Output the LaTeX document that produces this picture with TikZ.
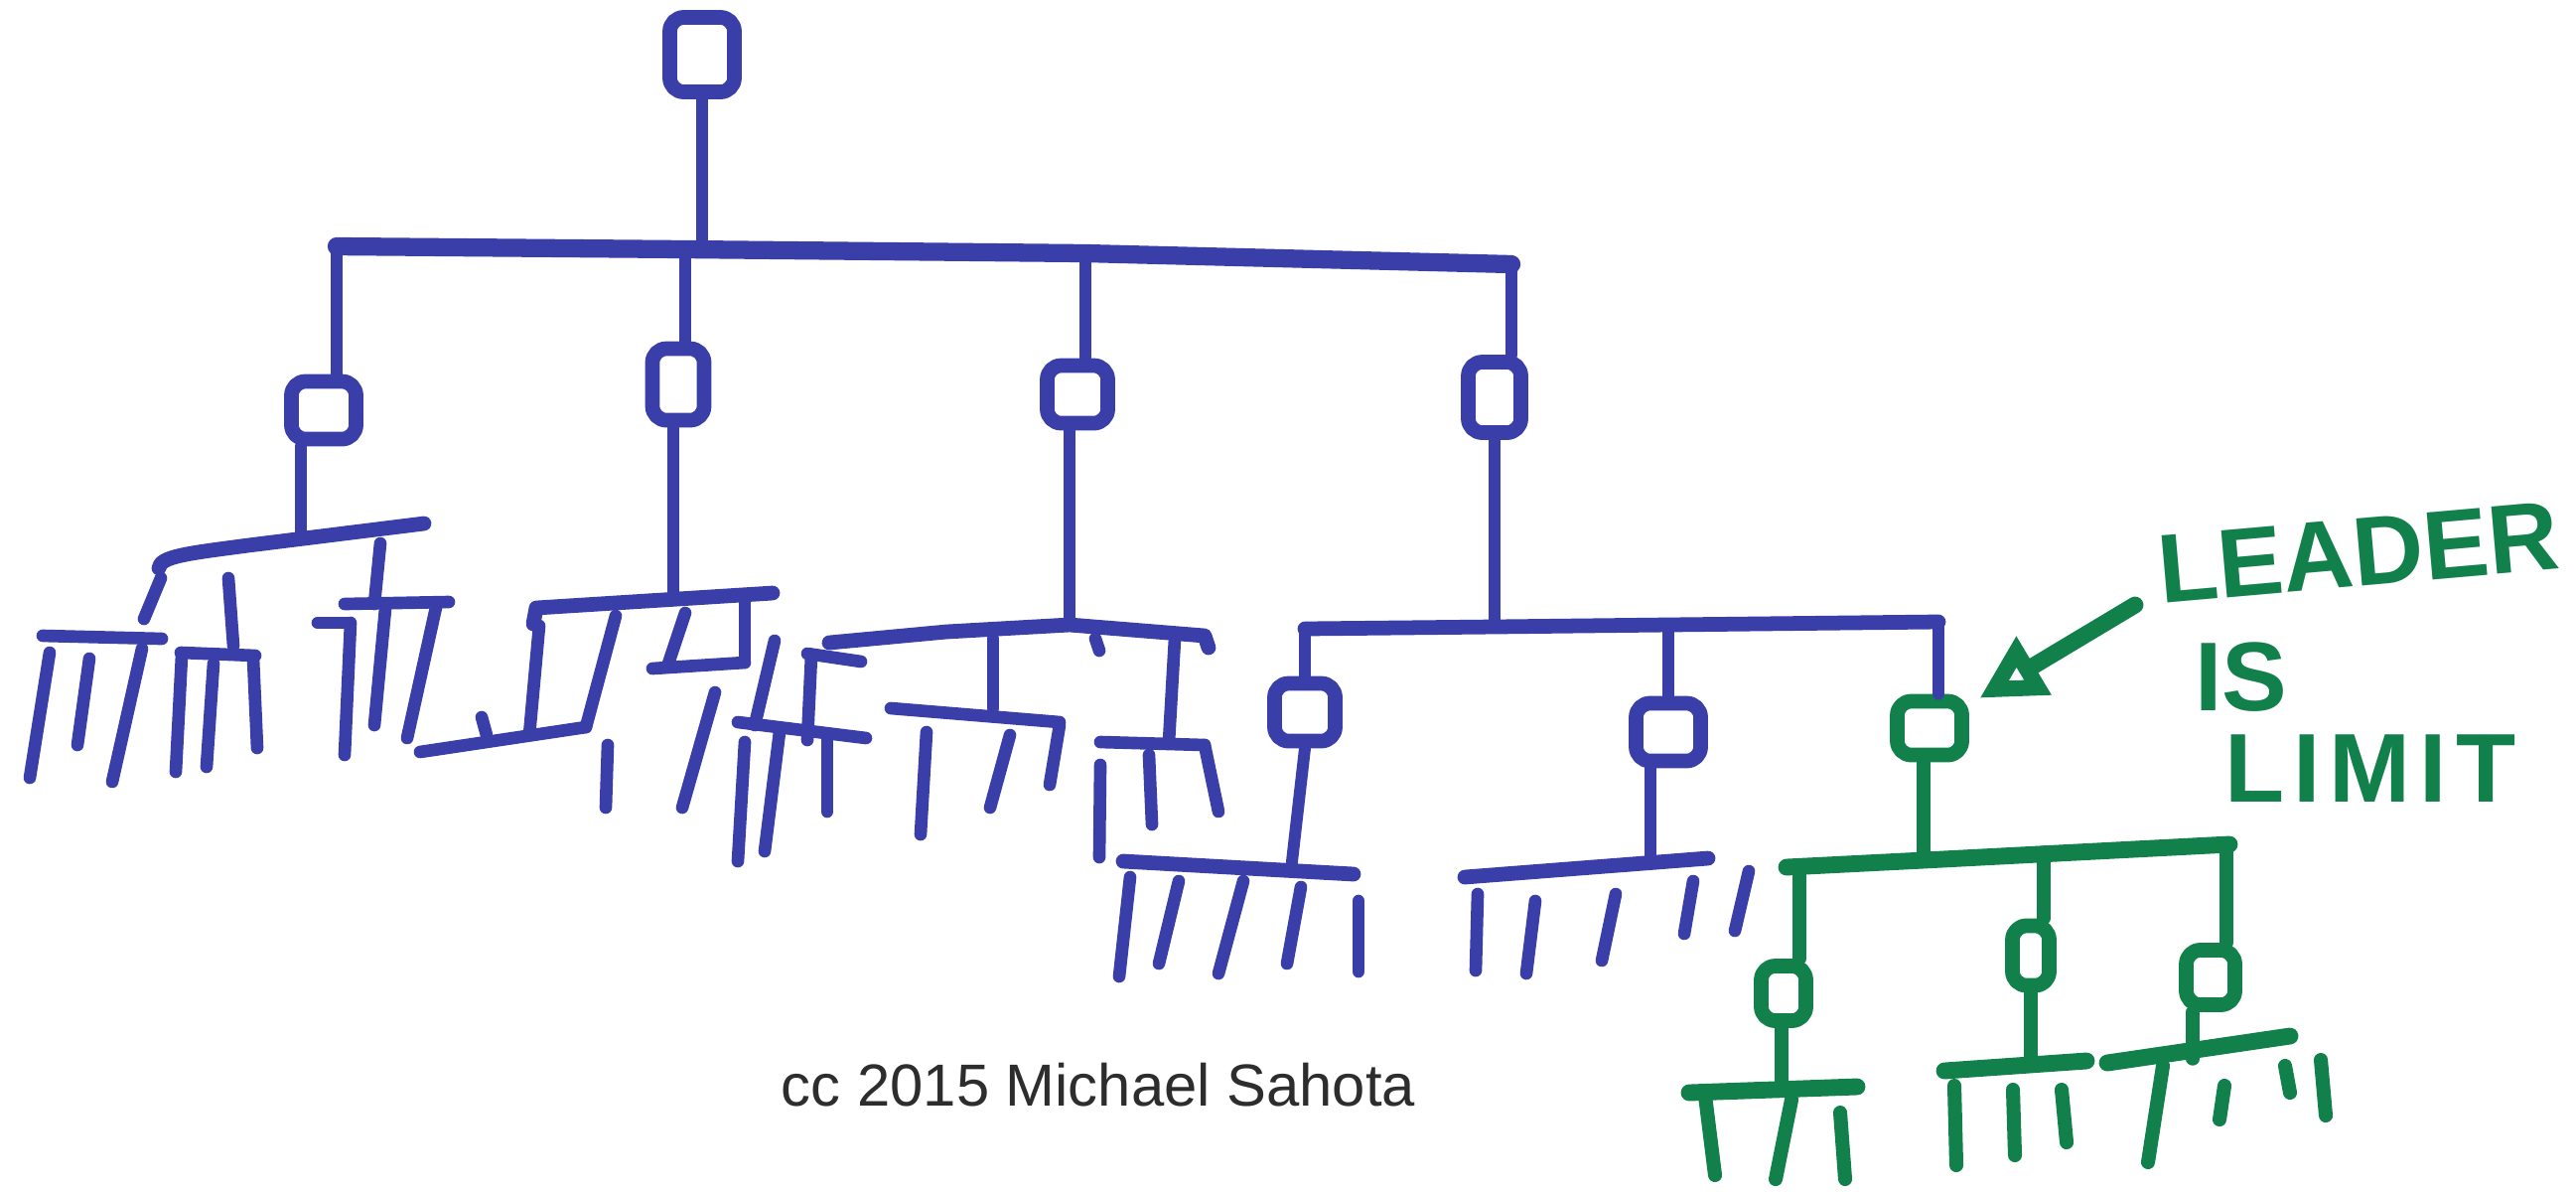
\documentclass[tikz,border=0pt]{standalone}
\usepackage{fontspec}
\setmainfont{Liberation Sans}
\usetikzlibrary{arrows.meta}

\definecolor{marker}{RGB}{58,62,168}
\definecolor{leadgreen}{RGB}{18,128,74}
\definecolor{ink}{RGB}{45,45,45}

\begin{document}
\begin{tikzpicture}[x=0.01cm,y=-0.01cm,line cap=round,line join=round,
  mgr/.style={draw=marker,line width=4.2pt,minimum width=0.61cm,minimum height=0.58cm,inner sep=0pt,rounded corners=4pt},
  gmgr/.style={mgr,draw=leadgreen,minimum width=0.45cm,minimum height=0.55cm},
  lnk/.style={marker,line width=3.4pt},
  rail/.style={marker,line width=4.2pt},
  leaf/.style={marker,line width=3.6pt},
  glnk/.style={leadgreen,line width=3.8pt},
  grail/.style={leadgreen,line width=4.8pt},
  gleaf/.style={leadgreen,line width=4pt},
  pointer/.style={leadgreen,line width=4.8pt,-{Triangle[open,length=0.64cm,width=0.64cm]},shorten >=0.12cm},
  caps/.style={leadgreen,inner sep=0pt,font=\bfseries\fontsize{28}{30}\selectfont}]
\useasboundingbox (0,0) rectangle (2594,1199);

% boxes
\node[mgr,minimum width=0.65cm,minimum height=0.75cm] (boss) at (707,55) {};
\node[mgr,minimum width=0.65cm] (m1) at (326,413) {};
\node[mgr,minimum width=0.52cm,minimum height=0.72cm] (m2) at (683,387) {};
\node[mgr] (m3) at (1085,397) {};
\node[mgr,minimum width=0.53cm,minimum height=0.71cm] (m4) at (1505,400) {};
\node[mgr] (m41) at (1314,717) {};
\node[mgr,minimum width=0.65cm] (m42) at (1680,737) {};
\node[mgr,draw=leadgreen,minimum width=0.65cm,minimum height=0.54cm] (lead) at (1943,733) {};
\node[gmgr] (g1) at (1796,1000) {};
\node[gmgr,minimum width=0.37cm,minimum height=0.6cm] (g2) at (2045,962) {};
\node[gmgr,minimum width=0.49cm] (g3) at (2226,984) {};

% top level
\coordinate (t1) at (339,248);
\coordinate (t2) at (690,251);
\coordinate (t3) at (1093,255);
\coordinate (t4) at (1522,266);
\draw[rail,line width=5.2pt] (t1) -- (t2) -- (t3) -- (t4);
\draw[lnk] (boss.south) -- (boss.south |- t2);
\foreach \m/\t in {m1/t1,m2/t2,m3/t3,m4/t4}
  \draw[lnk] (\t) -- (\t |- \m.north);

% team under m1
\coordinate (s1) at (303,542);
\draw[lnk] (s1 |- m1.south) -- (s1);
\draw[rail] (160,572) .. controls (161,560) and (190,557) .. (250,549) -- (427,527);
\foreach \xa/\ya/\xb/\yb in {43/640/163/643,182/657/257/660,347/608/452/606,320/627/352/627,
  162/582/145/623,230/582/235/650,383/547/377/608,
  50/657/30/783,90/663/78/750,143/653/113/787,183/660/177/777,215/668/208/772,255/663/259/753,
  353/627/347/760,388/613/377/730,440/607/410/743}
  \draw[leaf] (\xa,\ya) -- (\xb,\yb);

% team under m2
\coordinate (s2) at (678,603);
\draw[lnk] (s2 |- m2.south) -- (s2);
\draw[rail] (537,628) -- (540,612) -- (778,597);
\foreach \xa/\ya/\xb/\yb in {543/630/533/740,620/620/590/732,690/617/673/668,750/600/750/667,
  423/757/590/732,657/673/750/667,485/722/490/740,
  720/697/687/813,612/750/610/813}
  \draw[leaf] (\xa,\ya) -- (\xb,\yb);

% team under m3
\coordinate (s3) at (1077,629);
\draw[lnk] (s3 |- m3.south) -- (s3);
\draw[rail] (835,647) -- (953,636) -- (s3) -- (1213,640) -- (1217,652);
\foreach \xa/\ya/\xb/\yb in {813/658/867/666,743/727/872/743,897/713/1067/727,1108/747/1213/750,
  780/645/760/730,817/660/813/745,1000/643/1000/713,1183/643/1177/747,1103/643/1107/655,
  750/747/743/867,785/737/770/857,833/740/833/817,933/737/927/840,1017/740/997/813,
  1067/730/1057/790,1213/750/1227/817,1108/770/1107/863,1157/760/1160/830}
  \draw[leaf] (\xa,\ya) -- (\xb,\yb);

% team under m4
\coordinate (s4) at (1505,631);
\coordinate (s41) at (1314,633);
\coordinate (s42) at (1680,629);
\coordinate (s43) at (1952,626);
\draw[lnk] (m4) -- (s4);
\draw[rail] (s41) -- (s4) -- (s42) -- (s43);
\draw[lnk] (s41) -- (m41);
\draw[lnk] (s42) -- (m42);
\draw[lnk] (s43) -- (s43 |- lead.north);

\coordinate (b41) at (1300,876);
\coordinate (b42) at (1662,869);
\draw[lnk] (m41.south) -- (b41);
\draw[lnk] (b42 |- m42.south) -- (b42);
\draw[rail] (1131,867) -- (1363,880);
\draw[rail] (1475,883) -- (1720,864);
\foreach \xa/\ya/\xb/\yb in {1138/883/1127/983,1187/887/1167/970,1252/887/1227/980,1310/893/1296/970,1368/907/1368/978,
  1488/900/1486/977,1546/907/1537/980,1627/900/1613/967,1705/887/1696/940,1761/877/1747/937}
  \draw[leaf] (\xa,\ya) -- (\xb,\yb);

% the leader's team
\coordinate (sg) at (1937,866);
\coordinate (sg1) at (1812,872);
\coordinate (sg2) at (2058,858);
\coordinate (sg3) at (2242,850);
\draw[glnk] (sg |- lead.south) -- (sg);
\draw[grail] (1799,873) -- (sg) -- (2245,850);
\foreach \g/\s in {g1/sg1,g2/sg2,g3/sg3}
  \draw[glnk] (\s) -- (\s |- \g.north);
\coordinate (gb1) at (1794,1097);
\coordinate (gb2) at (2045,1073);
\coordinate (gb3) at (2208,1066);
\foreach \g/\b in {g1/gb1,g2/gb2,g3/gb3}
  \draw[glnk] (\b |- \g.south) -- (\b);
\draw[grail] (1701,1100) -- (1870,1094);
\draw[grail] (1958,1078) -- (2101,1068);
\draw[grail] (2122,1070) -- (2306,1043);
\foreach \xa/\ya/\xb/\yb in {1717/1103/1727/1183,1804/1107/1788/1187,1853/1120/1858/1187,
  1968/1093/1970/1173,2027/1097/2029/1163,2076/1097/2081/1150,
  2178/1073/2163/1170,2240/1093/2235/1127,2301/1073/2306/1100,2337/1067/2342/1123}
  \draw[gleaf] (\xa,\ya) -- (\xb,\yb);

% note
\coordinate (tail) at (2150,609);
\draw[pointer] (tail) -- (lead);
\node[caps,rotate=5] (leader) at (2375,556) {LEADER};
\node[caps] (is) at (2257,682) {IS};
\node[caps] (limit) at (2387,774) {\addfontfeature{LetterSpace=9}LIMIT};

\node[ink,font=\fontsize{17}{20}\selectfont] (credit) at (1106,1092) {cc 2015 Michael Sahota};
\end{tikzpicture}
\end{document}
